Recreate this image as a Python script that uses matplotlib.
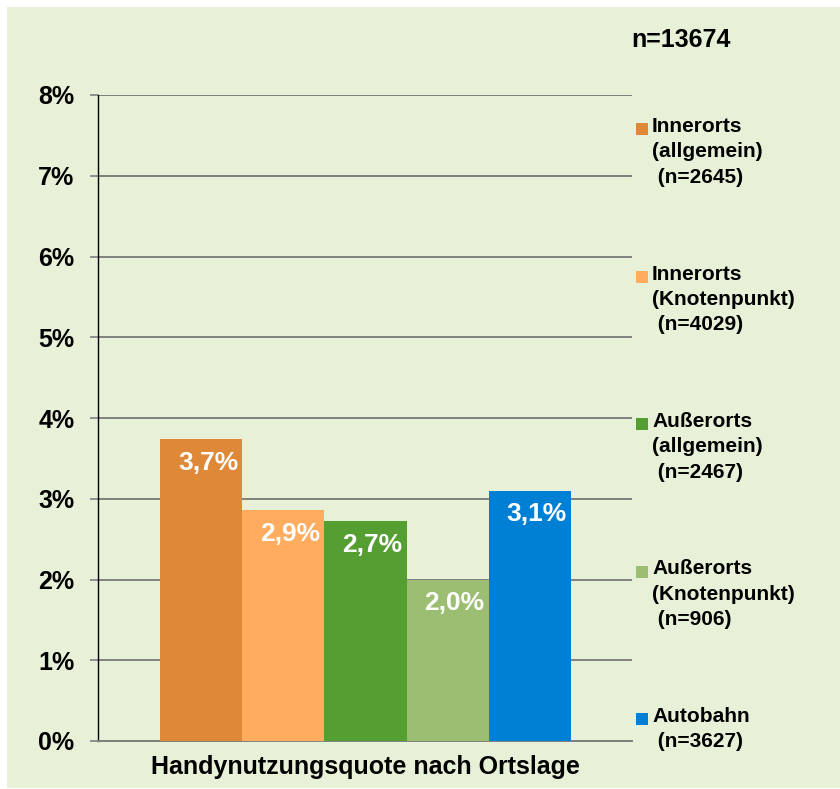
import matplotlib.pyplot as plt
from matplotlib.patches import Rectangle

# data
kategorien = ["Innerorts\n(allgemein)\n (n=2645)",
              "Innerorts\n(Knotenpunkt)\n (n=4029)",
              "Außerorts\n(allgemein)\n (n=2467)",
              "Außerorts\n(Knotenpunkt)\n (n=906)",
              "Autobahn\n (n=3627)"]
quoten = [3.74, 2.86, 2.72, 2.00, 3.10]
werte_text = ["3,7%", "2,9%", "2,7%", "2,0%", "3,1%"]
farben = ["#DE8838", "#FFAC5F", "#559E31", "#9BBE72", "#0080D4"]
y_ticks = [0, 1, 2, 3, 4, 5, 6, 7, 8]
y_labels = ["%d%%" % t for t in y_ticks]

plt.rcParams['font.family'] = ['Liberation Sans', 'DejaVu Sans']
plt.rcParams['font.weight'] = 'bold'

W, H = 840, 789
fig = plt.figure(figsize=(W / 100, H / 100), dpi=100, facecolor='white')

# pale green panel behind everything
bg = Rectangle((7 / W, 1 / H), 1 - 7 / W, 1 - 8 / H, transform=fig.transFigure,
               facecolor='#E7F1D7', edgecolor='none', zorder=-10)
fig.add_artist(bg)

ax = fig.add_axes([98 / W, 48 / H, (632 - 98) / W, (741 - 95) / H])
ax.set_facecolor('none')

x = list(range(len(quoten)))
ax.bar(x, quoten, width=1.0, color=farben, zorder=3)

for i, (v, t) in enumerate(zip(quoten, werte_text)):
    ax.annotate(t, xy=(i, v), xytext=(5, -17), textcoords='offset points',
                ha='center', va='center', color='white', fontsize=19,
                fontweight='bold', zorder=4)

ax.set_xlim(-0.5 - 62 / 82, len(quoten) - 0.5 + 61 / 82)
ax.set_ylim(0, 8)
ax.set_yticks(y_ticks)
ax.set_yticklabels(y_labels, fontsize=18, fontweight='bold')
ax.set_xticks([])
ax.tick_params(axis='y', length=6, width=1.2, color='#7F7F7F', pad=11)
ax.grid(axis='y', color='#7F7F7F', linewidth=1.4, zorder=0)
ax.set_axisbelow(True)

for s in ['top', 'right']:
    ax.spines[s].set_visible(False)
ax.spines['left'].set_color('black')
ax.spines['left'].set_linewidth(1.0)
ax.spines['bottom'].set_color('#7F7F7F')
ax.spines['bottom'].set_linewidth(1.4)

ax.set_xlabel("Handynutzungsquote nach Ortslage", fontsize=18,
              fontweight='bold', labelpad=10)

fig.text(681 / W, 1 - 40 / H, "n=13674", fontsize=18, fontweight='bold',
         ha='center', va='center')

# legend drawn by hand to match the spacing of the reference
for i, (lab, col) in enumerate(zip(kategorien, farben)):
    yc = 129 + 147.5 * i
    fig.add_artist(Rectangle((636 / W, 1 - (yc + 6) / H), 12 / W, 12 / H,
                             transform=fig.transFigure, facecolor=col,
                             edgecolor='none'))
    fig.text(652 / W, 1 - (yc - 12) / H, lab, fontsize=15, fontweight='bold',
             ha='left', va='top', linespacing=1.42)

fig.savefig("out.png", dpi=100, facecolor=fig.get_facecolor())
